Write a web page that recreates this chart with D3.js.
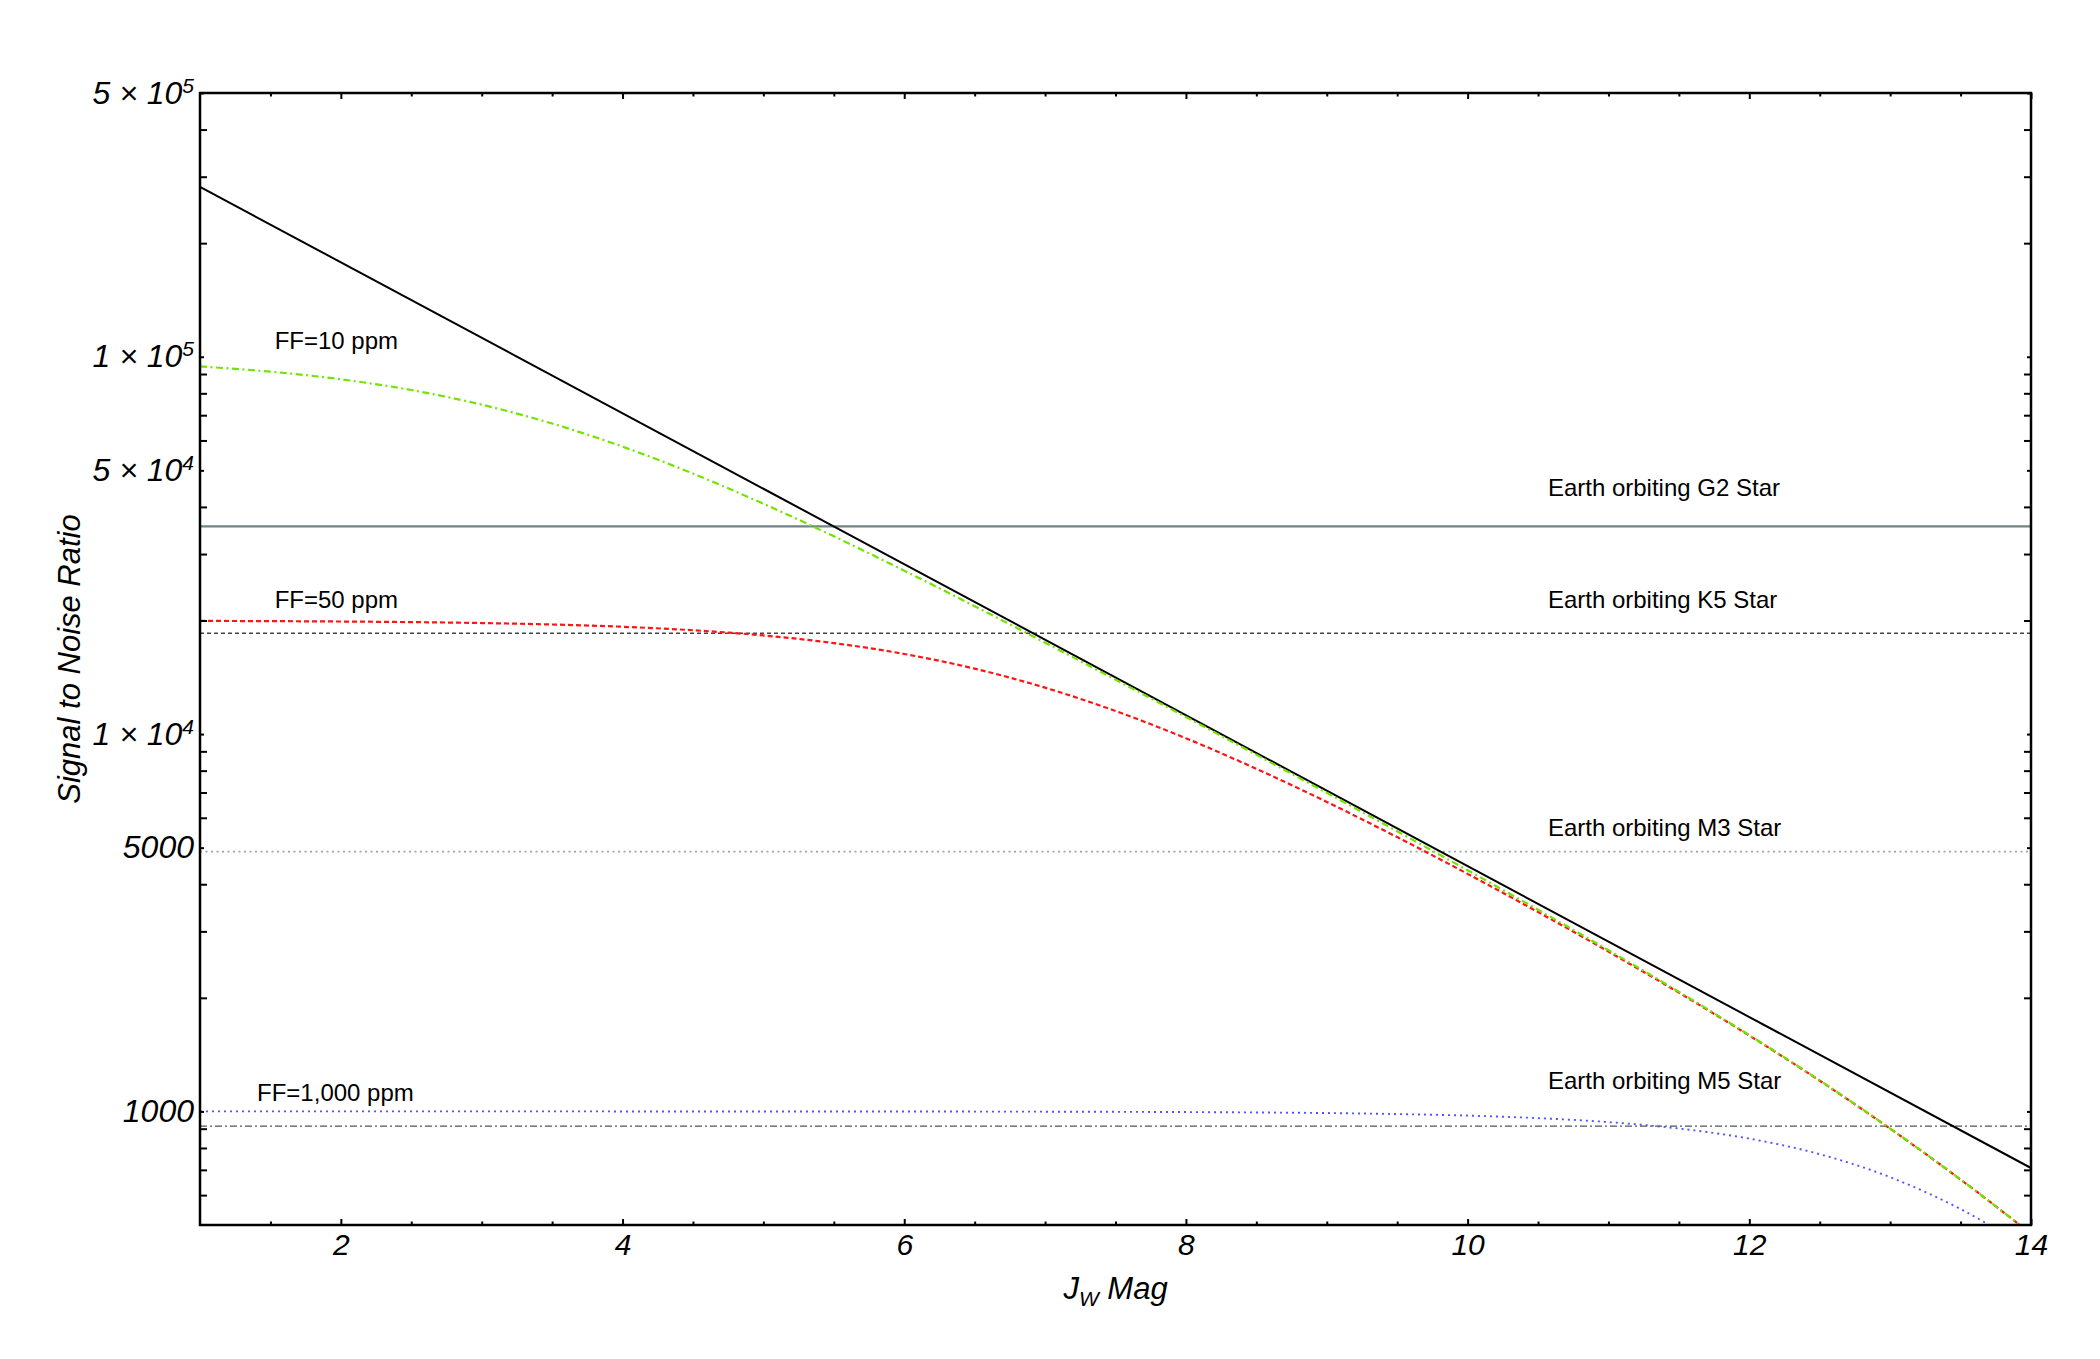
<!DOCTYPE html>
<html>
<head>
<meta charset="utf-8">
<script src="https://cdn.jsdelivr.net/npm/d3@7"></script>
<style>
body { margin: 0; background: #fff; }
text { font-family: "Liberation Sans", Arial, sans-serif; }
</style>
</head>
<body>
<svg id="chart"></svg>
<script>
var svgWidth = 2100,
    svgHeight = 1359,
    margin = {top: 93, right: 69, bottom: 134, left: 200},
    width = svgWidth - margin.left - margin.right,
    height = svgHeight - margin.top - margin.bottom;

// J_W magnitudes the curves are sampled at
var mags = [1, 1.5, 2, 2.5, 3, 3.5, 4, 4.5, 5, 5.5, 6, 6.5, 7, 7.5, 8, 8.5, 9, 9.5, 10, 10.5, 11, 11.5, 12, 12.5, 13, 13.5, 14];

// SNR
var snrFF10 = [94240, 91310, 87160, 81620, 74650, 66530, 57780, 49020, 40780, 33440, 27100, 21820, 17470, 13940, 11100, 8814, 6987, 5525, 4357, 3423, 2675, 2075, 1593, 1208, 901, 660, 474];
var snrFF50 = [19950, 19920, 19875, 19802, 19690, 19515, 19247, 18844, 18254, 17423, 16305, 14906, 13273, 11513, 9749, 8091, 6610, 5333, 4261, 3376, 2652, 2064, 1589, 1206, 900, 660, 474];
var snrFF1000 = [1000, 1000, 1000, 1000, 1000, 1000, 999.9, 999.8, 999.7, 999.6, 999.4, 999.0, 998.4, 997.5, 996.0, 993.7, 990.0, 984.0, 974.7, 959.9, 936.7, 900.9, 847.0, 770.3, 669.5, 551.0, 428.4];

// photon noise only (straight line on the log axis)
var photonMags = [1, 14];
var photonSnr = [282000, 708];

// required SNR for an Earth around each star type
var starTypes = ['G2', 'K5', 'M3', 'M5'];
var starSnr = [35500, 18500, 4880, 914];

var ffLabels = ['FF=10 ppm', 'FF=50 ppm', 'FF=1,000 ppm'];

// ticks
var xMajorTicks = [2, 4, 6, 8, 10, 12, 14];
var xTickLabels = ['2', '4', '6', '8', '10', '12', '14'];
var xMinorTicks = [1.5, 2.5, 3, 3.5, 4.5, 5, 5.5, 6.5, 7, 7.5, 8.5, 9, 9.5, 10.5, 11, 11.5, 12.5, 13, 13.5];
var yMajorTicks = [1000, 5000, 10000, 50000, 100000, 500000];
var yTickLabels = [['1000', ''], ['5000', ''], ['1 \u00d7 10', '4'], ['5 \u00d7 10', '4'], ['1 \u00d7 10', '5'], ['5 \u00d7 10', '5']];
var yMinorTicks = [600, 700, 800, 900, 2000, 3000, 4000, 6000, 7000, 8000, 9000,
                   20000, 30000, 40000, 60000, 70000, 80000, 90000, 200000, 300000, 400000];

var xScale = d3.scaleLinear().domain([1, 14]).range([0, width]);
var yScale = d3.scaleLog().domain([500, 500000]).range([height, 0]);

var svg = d3.select('#chart')
    .attr('width', svgWidth)
    .attr('height', svgHeight)
    .style('background', '#fff')
  .append('g')
    .attr('transform', 'translate(' + margin.left + ',' + margin.top + ')');

svg.append('clipPath').attr('id', 'plotclip')
  .append('rect').attr('width', width).attr('height', height);

var plot = svg.append('g').attr('clip-path', 'url(#plotclip)');

var line = d3.line()
    .x(function(d) { return xScale(d[0]); })
    .y(function(d) { return yScale(d[1]); })
    .curve(d3.curveMonotoneX);

var zip = function(xs, ys) { return xs.map(function(x, i) { return [x, ys[i]]; }); };

// star reference lines
var starStyle = [
  {stroke: '#6f8484', width: 2.2, dash: null, dy: -30},
  {stroke: '#444', width: 1.3, dash: '4,3', dy: -25},
  {stroke: '#9ca8a8', width: 1.6, dash: '2,3.5', dy: -16},
  {stroke: '#4a5858', width: 1.3, dash: '7,3,2,3', dy: -37}
];

starTypes.forEach(function(s, i) {
  plot.append('path')
    .datum([[1, starSnr[i]], [14, starSnr[i]]])
    .attr('d', line)
    .attr('fill', 'none')
    .attr('stroke', starStyle[i].stroke)
    .attr('stroke-width', starStyle[i].width)
    .attr('stroke-dasharray', starStyle[i].dash);

  svg.append('text')
    .attr('x', xScale(10.57))
    .attr('y', yScale(starSnr[i]) + starStyle[i].dy)
    .attr('font-size', '24px')
    .attr('fill', '#000')
    .text('Earth orbiting ' + s + ' Star');
});

// photon-limited line
plot.append('path')
  .datum(zip(photonMags, photonSnr))
  .attr('d', line)
  .attr('fill', 'none')
  .attr('stroke', '#000')
  .attr('stroke-width', 2);

var series = [
  {data: snrFF50, stroke: '#ff1414', width: 2.2, dash: '5,3', lx: 1.53, dy: -13, label: 1},
  {data: snrFF10, stroke: '#72e400', width: 2.2, dash: '7,3.5,2,3.5', lx: 1.53, dy: -17, label: 0},
  {data: snrFF1000, stroke: '#5252ff', width: 1.9, dash: '2,4', lx: 1.405, dy: -10, label: 2}
];

series.forEach(function(s) {
  plot.append('path')
    .datum(zip(mags, s.data))
    .attr('d', line)
    .attr('fill', 'none')
    .attr('stroke', s.stroke)
    .attr('stroke-width', s.width)
    .attr('stroke-dasharray', s.dash);

  svg.append('text')
    .attr('x', xScale(s.lx))
    .attr('y', yScale(s.data[0]) + s.dy)
    .attr('font-size', '24px')
    .attr('fill', '#000')
    .text(ffLabels[s.label]);
});

// axes (ticks point inward, Mathematica frame style)
var styleAxis = function(g) {
  g.select('.domain').remove();
  g.selectAll('.tick line').attr('stroke', '#000').attr('stroke-width', 2);
  g.selectAll('.tick text')
    .attr('fill', '#000')
    .style('font-family', '"Liberation Sans", Arial, sans-serif')
    .style('font-style', 'italic')
    .style('font-size', '30px');
};

svg.append('g')
  .attr('transform', 'translate(0,' + height + ')')
  .call(d3.axisBottom(xScale).tickValues(xMinorTicks).tickSize(-3.5).tickFormat(''))
  .call(styleAxis);

svg.append('g')
  .attr('transform', 'translate(0,' + height + ')')
  .call(d3.axisBottom(xScale).tickValues(xMajorTicks).tickSize(-6).tickPadding(9)
    .tickFormat(function(d, i) { return xTickLabels[i]; }))
  .call(styleAxis);

svg.append('g')
  .call(d3.axisTop(xScale).tickValues(xMinorTicks).tickSize(-3.5).tickFormat(''))
  .call(styleAxis);

svg.append('g')
  .call(d3.axisTop(xScale).tickValues(xMajorTicks).tickSize(-6).tickFormat(''))
  .call(styleAxis);

svg.append('g')
  .call(d3.axisLeft(yScale).tickValues(yMinorTicks).tickSize(-7).tickFormat(''))
  .call(styleAxis);

var yLab = svg.append('g')
  .call(d3.axisLeft(yScale).tickValues(yMajorTicks).tickSize(-4).tickPadding(6)
    .tickFormat(function(d, i) { return yTickLabels[i][0]; }))
  .call(styleAxis);

yLab.selectAll('.tick text')
  .style('font-size', '32px')
  .each(function(d, i) {
    if (yTickLabels[i][1]) {
      d3.select(this).append('tspan')
        .attr('dy', -11)
        .style('font-size', '21px')
        .text(yTickLabels[i][1]);
    }
  });

svg.append('g')
  .attr('transform', 'translate(' + width + ',0)')
  .call(d3.axisRight(yScale).tickValues(yMinorTicks).tickSize(-7).tickFormat(''))
  .call(styleAxis);

svg.append('g')
  .attr('transform', 'translate(' + width + ',0)')
  .call(d3.axisRight(yScale).tickValues(yMajorTicks).tickSize(-4).tickFormat(''))
  .call(styleAxis);

// frame
svg.append('rect')
  .attr('width', width)
  .attr('height', height)
  .attr('fill', 'none')
  .attr('stroke', '#000')
  .attr('stroke-width', 2.5);

// axis titles
var xTitle = svg.append('text')
  .attr('x', width / 2)
  .attr('y', height + 74)
  .attr('text-anchor', 'middle')
  .style('font-style', 'italic')
  .style('font-size', '31px')
  .attr('fill', '#000')
  .text('J');
xTitle.append('tspan').attr('dy', 7).style('font-size', '21px').text('W');
xTitle.append('tspan').attr('dy', -7).text(' Mag');

svg.append('text')
  .attr('transform', 'translate(-120,' + (height / 2) + ') rotate(-90)')
  .attr('text-anchor', 'middle')
  .style('font-style', 'italic')
  .style('font-size', '31px')
  .attr('fill', '#000')
  .text('Signal to Noise Ratio');
</script>
</body>
</html>
